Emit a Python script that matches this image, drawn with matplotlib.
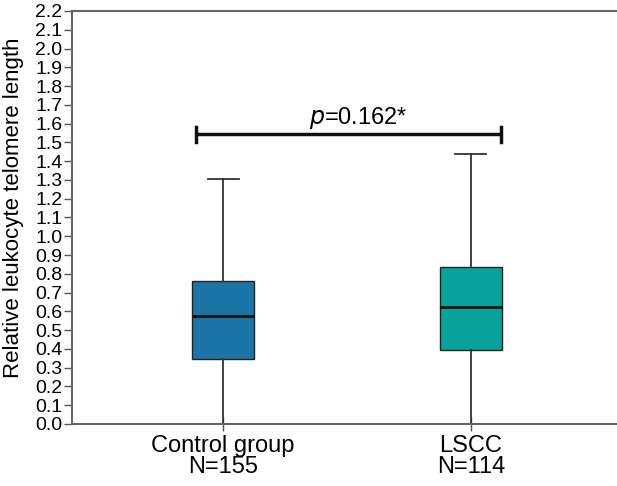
import matplotlib
matplotlib.use("Agg")
from matplotlib import pyplot as plt

plt.rcParams['font.family'] = ['Liberation Sans', 'DejaVu Sans']

# Data
groups = ["Control group\nN=155", "LSCC\nN=114"]
whisker_low = [0.0, 0.0]
q1 = [0.348, 0.396]
medians = [0.577, 0.625]
q3 = [0.762, 0.838]
whisker_high = [1.305, 1.437]
box_colors = ["#1a74a6", "#07a39a"]
p_label = "=0.162*"
bracket_y = 1.543
yticks = [round(i * 0.1, 1) for i in range(23)]

fig = plt.figure(figsize=(6.17, 4.86), dpi=100)
ax = fig.add_axes([0.1167, 0.1276, 0.8833, 0.8498])

positions = [1, 2]
stats = []
for i in range(len(groups)):
    stats.append(dict(whislo=whisker_low[i], q1=q1[i], med=medians[i],
                      q3=q3[i], whishi=whisker_high[i], fliers=[]))

bp = ax.bxp(stats, positions=positions, widths=0.25, patch_artist=True,
            showfliers=False,
            boxprops=dict(edgecolor="#222222", linewidth=1.0),
            medianprops=dict(color="#111111", linewidth=2.0),
            whiskerprops=dict(color="#333333", linewidth=1.3),
            capprops=dict(color="#333333", linewidth=1.3),
            capwidths=0.125)
for patch, c in zip(bp["boxes"], box_colors):
    patch.set_facecolor(c)

# significance bracket
left_x, right_x = 1.0 - 0.11, 2.0 + 0.12
ax.plot([left_x, right_x], [bracket_y, bracket_y], color="#111111", lw=2.5,
        solid_capstyle="butt")
for x in [left_x, right_x]:
    ax.plot([x, x], [bracket_y - 0.04, bracket_y + 0.04], color="#111111", lw=2.5)
ax.text(1.545, 1.60, "$p$" + p_label, ha="center", va="baseline",
        fontsize=17)

ax.set_xlim(0.39, 2.59)
ax.set_ylim(0, 2.2)
ax.set_yticks(yticks)
ax.set_yticklabels(["%.1f" % v for v in yticks], fontsize=14)
ax.set_xticks(positions)
ax.set_xticklabels(groups, fontsize=17, linespacing=0.95)
ax.tick_params(axis="y", direction="out", length=6, width=1, color="#555555", pad=1)
ax.tick_params(axis="x", direction="inout", length=10, width=1, color="#555555", pad=3)
ax.set_ylabel("Relative leukocyte telomere length", fontsize=16)
ax.yaxis.set_label_coords(-0.088, 0.524)

ax.spines["right"].set_visible(False)
for s in ["top", "bottom", "left"]:
    ax.spines[s].set_color("#666666")
    ax.spines[s].set_linewidth(1.5)

fig.savefig("out.png", dpi=100)
